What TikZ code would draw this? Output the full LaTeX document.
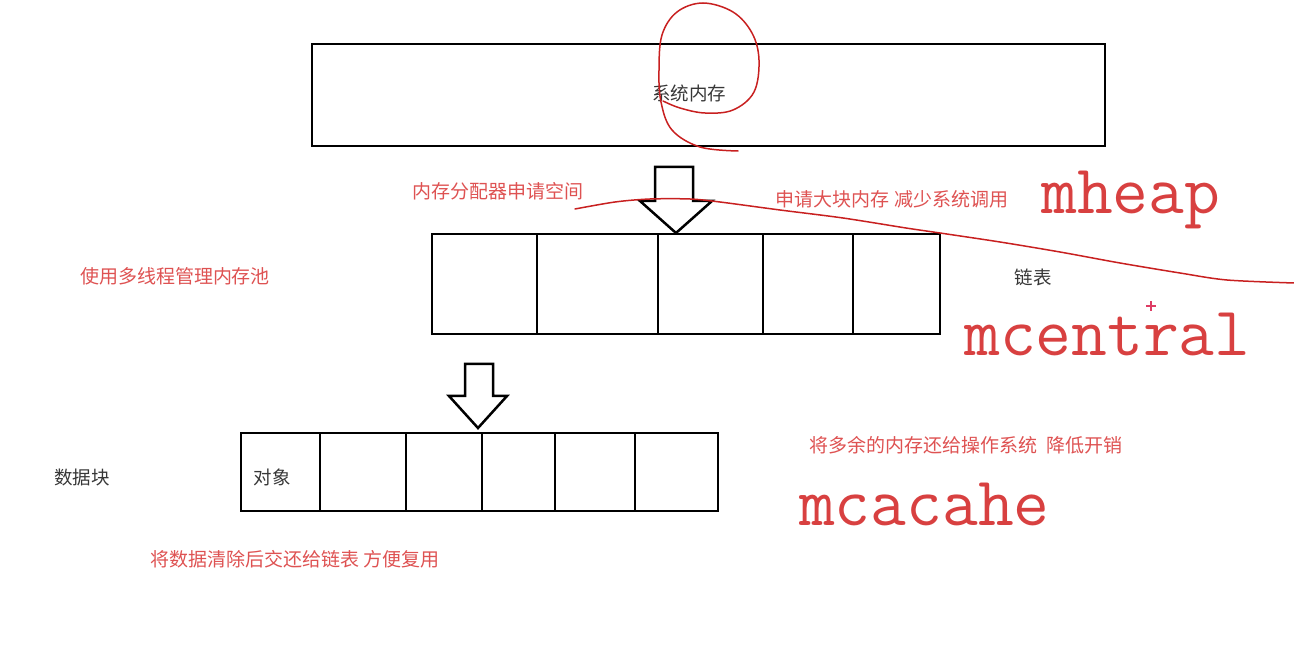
\documentclass[tikz,border=0pt]{standalone}
\usepackage{fontspec}
\newfontfamily\cjk{Noto Sans CJK SC}
\definecolor{notered}{RGB}{222,82,82}
\definecolor{bigred}{RGB}{216,64,64}
\definecolor{penred}{RGB}{200,32,32}
\definecolor{cursorred}{RGB}{222,60,100}
\definecolor{graytext}{RGB}{55,55,55}
\begin{document}
\begin{tikzpicture}[x=1pt,y=-1pt,
  cell/.style={draw=black,line width=2.5pt,inner sep=0,outer sep=0},
  note/.style={text=notered,font=\cjk\fontsize{19}{19}\selectfont,inner sep=0},
  lbl/.style={text=graytext,font=\cjk\fontsize{18.5}{19}\selectfont,inner sep=0},
  big/.style={text=bigred,font=\ttfamily\fontsize{69.5}{70}\selectfont,inner sep=0,anchor=base west},
  blockarrow/.style={draw=black,fill=white,line width=2.5pt,line join=miter},
  pen/.style={draw=penred,line width=1.5pt,line cap=round,line join=round}]
\useasboundingbox (0,0) rectangle (1294,660);

% top box
\node[cell,minimum width=793pt,minimum height=102pt] (sys) at (708.5,95) {};
\node[lbl] (systxt) at (689,93) {系统内存};

% middle row (linked list)
\node[cell,minimum width=105pt,minimum height=100pt] (m1) at (484.5,284) {};
\node[cell,minimum width=121pt,minimum height=100pt] (m2) at (597.5,284) {};
\node[cell,minimum width=105pt,minimum height=100pt] (m3) at (710.5,284) {};
\node[cell,minimum width=90pt,minimum height=100pt] (m4) at (808,284) {};
\node[cell,minimum width=87pt,minimum height=100pt] (m5) at (896.5,284) {};

% bottom row (data block)
\node[cell,minimum width=79pt,minimum height=78pt] (b1) at (280.5,472) {};
\node[cell,minimum width=86pt,minimum height=78pt] (b2) at (363,472) {};
\node[cell,minimum width=76pt,minimum height=78pt] (b3) at (444,472) {};
\node[cell,minimum width=73pt,minimum height=78pt] (b4) at (518.5,472) {};
\node[cell,minimum width=80pt,minimum height=78pt] (b5) at (595,472) {};
\node[cell,minimum width=83pt,minimum height=78pt] (b6) at (676.5,472) {};
\node[lbl] (obj) at (272,477) {对象};

% block arrows
\draw[blockarrow] (655,167) -- (693,167) -- (693,201) -- (712,201) -- (676,233) -- (640,201) -- (655,201) -- cycle;
\draw[blockarrow] (465,364) -- (493,364) -- (493,396) -- (507,396) -- (478,428) -- (449,396) -- (465,396) -- cycle;

% labels
\node[note] (alloc) at (498,191) {内存分配器申请空间};
\node[note] (bigblk) at (892,199) {申请大块内存 减少系统调用};
\node[note] (pool) at (175,276) {使用多线程管理内存池};
\node[lbl] (list) at (1033,277) {链表};
\node[lbl] (data) at (82,477) {数据块};
\node[note] (back) at (295,559) {将数据清除后交还给链表 方便复用};
\node[note] (ret) at (966,445) {将多余的内存还给操作系统\ \ 降低开销};

\node[big] (mheap) at (1041,214) {mheap};
\node[big] (mcentral) at (964,356) {mcentral};
\node[big] (mcacahe) at (799,525) {mcacahe};

% mouse cursor mark
\coordinate (cur) at (1151,306);
\draw[cursorred,line width=1.6pt] ([xshift=-5pt]cur) -- ([xshift=5pt]cur) ([yshift=-5pt]cur) -- ([yshift=5pt]cur);

% hand-drawn pen strokes
\draw[pen] plot[smooth,tension=0.6] coordinates {(738,151) (700,147) (672,130) (661,102) (659,70) (662,35) (677,12) (703,3) (733,12) (752,33) (759,60) (754,92) (733,110) (705,113) (680,108) (663,101)};
\draw[pen] plot[smooth,tension=0.5] coordinates {(575,209) (615,202) (650,199) (690,199) (720,202) (780,210) (843,218) (906,228) (940,233) (1000,242) (1060,252) (1120,263) (1180,273) (1227,280) (1294,283)};
\end{tikzpicture}
\end{document}
